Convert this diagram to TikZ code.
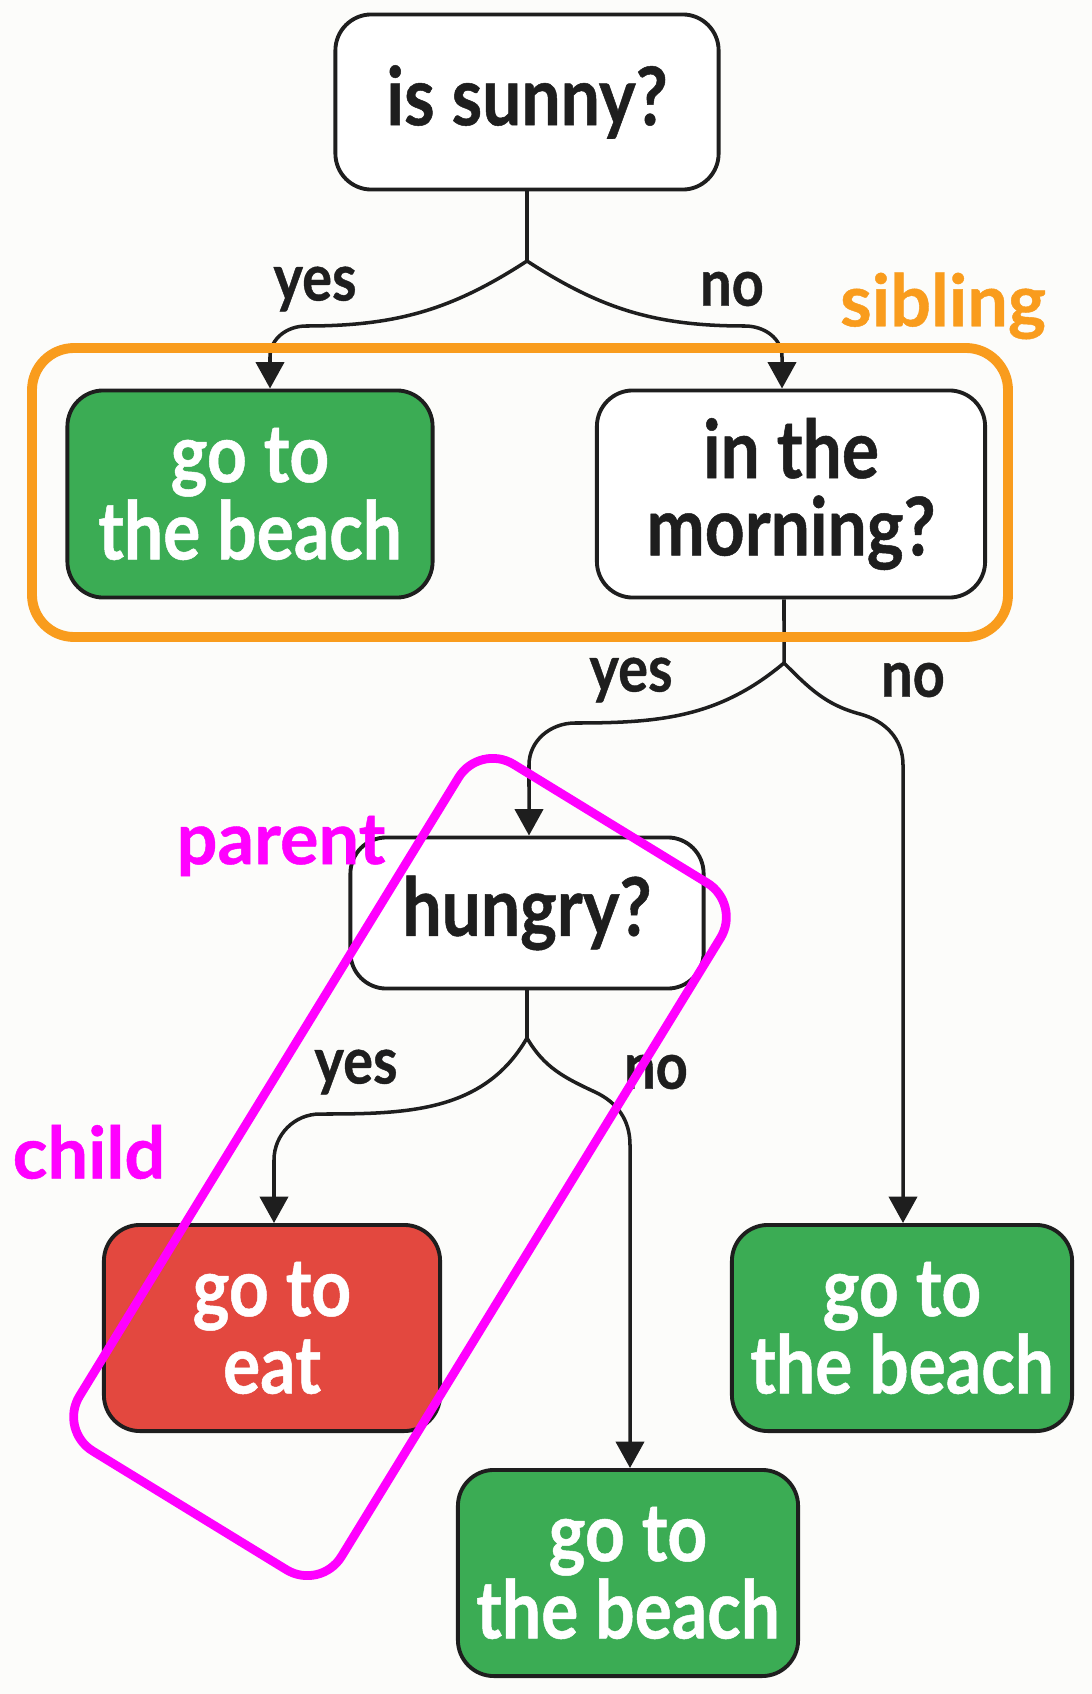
\documentclass[tikz,border=0pt]{standalone}
\usepackage{fontspec}
\setmainfont{Lato}[FakeStretch=0.86, BoldFeatures={FakeBold=0.6}]
\newfontfamily\tagfont{Lato}[BoldFeatures={FakeBold=0.6}]
\usetikzlibrary{arrows.meta}
\definecolor{ink}{HTML}{1E1E1E}
\definecolor{paper}{HTML}{FCFCFA}
\definecolor{leafgreen}{HTML}{3BAC54}
\definecolor{eatred}{HTML}{E3483F}
\definecolor{sibcol}{HTML}{F99C1D}
\definecolor{grpcol}{HTML}{FF00FF}
\tikzset{ % box and line looks
    qbox/.style={draw=ink, line width=1.1pt, rounded corners=0.36cm, fill=white, text=ink,
        align=center, inner sep=0pt, font=\bfseries\fontsize{23}{22}\selectfont},
    leaf/.style={qbox, fill=leafgreen, text=white},
    eatbox/.style={qbox, fill=eatred, text=white},
    stem/.style={draw=ink, line width=1pt},
    arr/.style={stem, -{Triangle[length=7.5pt,width=8pt]}},
    lbl/.style={text=ink, font=\bfseries\fontsize{18.5}{20}\selectfont},
    tag/.style={font=\tagfont\bfseries\fontsize{20.5}{22}\selectfont},
}

\begin{document}
\begin{tikzpicture}[x=0.01cm,y=0.01cm]
    \fill[paper] (0,0) rectangle (1092,-1694);
    \useasboundingbox (0,0) rectangle (1092,-1694);
    % questions and answers
    \node[qbox, minimum width=3.83cm, minimum height=1.75cm] (sunny) at (527,-102) {is sunny?};
    \node[leaf, minimum width=3.65cm, minimum height=2.07cm] (beach1) at (250,-494) {go to\\the beach};
    \node[qbox, minimum width=3.88cm, minimum height=2.07cm] (morning) at (791,-494) {in the\\morning?};
    \node[qbox, minimum width=3.53cm, minimum height=1.51cm] (hungry) at (527,-913) {hungry?};
    \node[eatbox, minimum width=3.36cm, minimum height=2.06cm] (eat) at (272,-1328) {go to\\eat};
    \node[leaf, minimum width=3.40cm, minimum height=2.06cm] (beach2) at (902,-1328) {go to\\the beach};
    \node[leaf, minimum width=3.40cm, minimum height=2.06cm] (beach3) at (628,-1573) {go to\\the beach};
    \coordinate (j1) at (527,-261);
    \coordinate (j2) at (784,-663);
    \coordinate (j3) at (527,-1038);
    % branches
    \draw[stem] (sunny.south) -- (j1);
    \draw[arr] (j1) to[out=-147,in=0] (306,-326) to[out=180,in=90] (270,-357) -- ([xshift=0.2cm]beach1.north);
    \draw[arr] (j1) to[out=-33,in=180] (745,-326) to[out=0,in=90] (782,-357) -- ([xshift=-0.09cm]morning.north);
    \draw[stem] ([xshift=-0.07cm]morning.south) -- (j2);
    \draw[arr] (j2) to[out=-140,in=0] (575,-723) to[out=180,in=90] (529,-765) -- ([xshift=0.02cm]hungry.north);
    \draw[arr] (j2) to[out=-45,in=165] (860,-714) to[out=-15,in=90] (903,-765) -- ([xshift=0.01cm]beach2.north);
    \draw[stem] (hungry.south) -- (j3);
    \draw[arr] (j3) to[out=-120,in=0] (320,-1114) to[out=180,in=90] (274,-1160) -- ([xshift=0.02cm]eat.north);
    \draw[arr] (j3) to[out=-60,in=155] (595,-1092) to[out=-25,in=90] (630,-1145) -- ([xshift=0.02cm]beach3.north);
    \node[lbl] (yes1) at (315,-289) {yes};
    \node[lbl] (no1) at (732,-289) {no};
    \node[lbl] (yes2) at (631,-680) {yes};
    \node[lbl] (no2) at (913,-680) {no};
    \node[lbl] (yes3) at (356,-1072) {yes};
    \node[lbl] (no3) at (656,-1072) {no};
    % groups
    \draw[sibcol, line width=2.8pt, rounded corners=0.42cm] (32,-348) rectangle (1008,-637);
    \node[tag, text=sibcol] (sib) at (943,-306) {sibling};
    \node[draw=grpcol, line width=2.5pt, rounded corners=0.4cm, minimum width=8.05cm,
        minimum height=3.07cm, rotate=58.5] (grp) at (400,-1167) {};
    \node[tag, text=grpcol] (par) at (281,-846) {parent};
    \node[tag, text=grpcol] (chi) at (89,-1152) {child};
\end{tikzpicture}
\end{document}
